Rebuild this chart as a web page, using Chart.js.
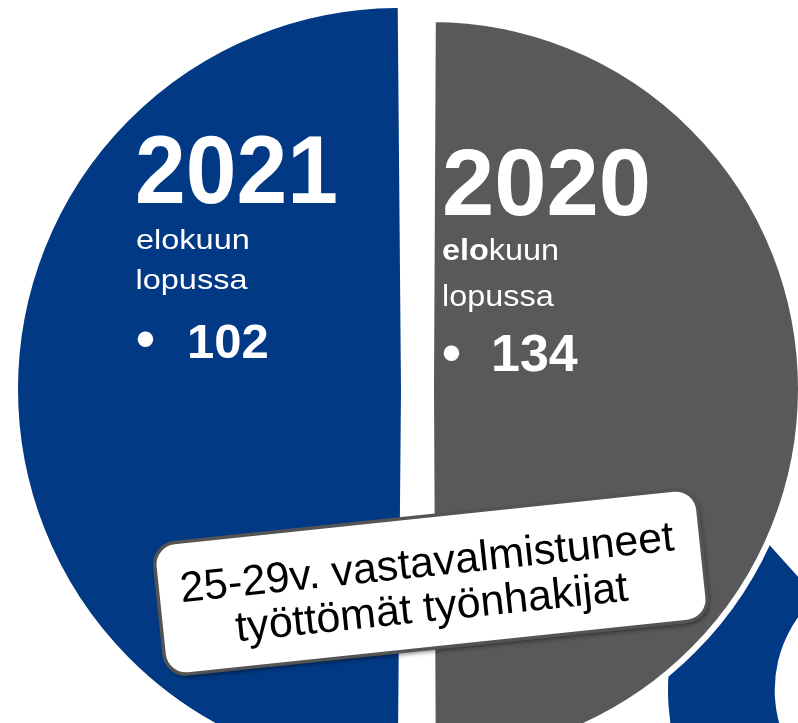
<!DOCTYPE html>
<html><head><meta charset="utf-8">
<script src="https://cdn.jsdelivr.net/npm/chart.js@4.4.1/dist/chart.umd.min.js"></script>
<style>
html,body{margin:0;padding:0;background:#fff;overflow:hidden;width:798px;height:723px;}
#wrap{position:relative;width:798px;height:723px;overflow:hidden;background:#fff;}
#ring{position:absolute;left:650px;top:440px;z-index:1;}
#main{position:absolute;left:0;top:0;z-index:2;}
</style></head><body>
<div id="wrap">
<canvas id="ring" width="500" height="500"></canvas>
<canvas id="main" width="798" height="723"></canvas>
</div>
<script>
// ---- data ----
const years = ['2021', '2020'];
const jobseekers = [102, 134];
const sliceShares = [50, 50];
const subLine1 = 'elokuun';
const subLine2 = 'lopussa';
const calloutLines = ['25-29v. vastavalmistuneet', 'työttömät työnhakijat'];
const ringShares = [138, 222];

// ---- styles ----
const BLUE = '#023984';
const GRAY = '#59595b';
const FONT = '"Liberation Sans", Arial, sans-serif';

// per-slice label layout (relative to the drawn slice centre)
const labelLayout = [
  { year: [-264, -186, 97, 0.94], l1: [-263, -140, 28, 1.16, 0], l2: [-263.5, -100, 28, 1.16], bullet: [-253.5, -50, 54], val: [-212, -31, 49] },
  { year: [11, -174, 94, 1.0], l1: [11, -129, 30, 1.08, 3], l2: [11, -83, 30, 1.08], bullet: [20.5, -36, 54], val: [60, -18, 52] }
];

function stretchedText(ctx, parts, x, y, size, sx) {
  ctx.save();
  ctx.translate(x, y);
  ctx.scale(sx, 1);
  let cx = 0;
  for (const [t, bold] of parts) {
    ctx.font = (bold ? 'bold ' : '') + size + 'px ' + FONT;
    ctx.fillText(t, cx, 0);
    cx += ctx.measureText(t).width;
  }
  ctx.restore();
}

const labelPlugin = {
  id: 'sliceLabels',
  afterDatasetsDraw(chart) {
    const ctx = chart.ctx;
    const meta = chart.getDatasetMeta(0);
    meta.data.forEach((arc, i) => {
      const p = arc.getProps(['x', 'y', 'startAngle', 'endAngle'], true);
      const mid = (p.startAngle + p.endAngle) / 2;
      const shift = (arc.options.offset || 0) / 4; // Chart.js v4 arc translation
      const cx = p.x + Math.cos(mid) * shift;
      const cy = p.y + Math.sin(mid) * shift;
      const L = labelLayout[i];
      ctx.save();
      ctx.fillStyle = '#ffffff';
      ctx.textAlign = 'left';
      ctx.textBaseline = 'alphabetic';
      stretchedText(ctx, [[years[i], true]], cx + L.year[0], cy + L.year[1], L.year[2], L.year[3]);
      const bp = L.l1[4];
      const parts = bp ? [[subLine1.slice(0, bp), true], [subLine1.slice(bp), false]] : [[subLine1, false]];
      stretchedText(ctx, parts, cx + L.l1[0], cy + L.l1[1], L.l1[2], L.l1[3]);
      stretchedText(ctx, [[subLine2, false]], cx + L.l2[0], cy + L.l2[1], L.l2[2], L.l2[3]);
      ctx.textAlign = 'center';
      ctx.font = 'bold ' + L.bullet[2] + 'px ' + FONT;
      ctx.fillText('\u2022', cx + L.bullet[0], cy + L.bullet[1] + L.bullet[2] * 0.33);
      ctx.textAlign = 'left';
      ctx.font = 'bold ' + L.val[2] + 'px ' + FONT;
      ctx.fillText(String(jobseekers[i]), cx + L.val[0], cy + L.val[1]);
      ctx.restore();
    });
  }
};

function roundRectPath(ctx, x, y, w, h, r) {
  ctx.beginPath();
  ctx.moveTo(x + r, y);
  ctx.lineTo(x + w - r, y);
  ctx.arcTo(x + w, y, x + w, y + r, r);
  ctx.lineTo(x + w, y + h - r);
  ctx.arcTo(x + w, y + h, x + w - r, y + h, r);
  ctx.lineTo(x + r, y + h);
  ctx.arcTo(x, y + h, x, y + h - r, r);
  ctx.lineTo(x, y + r);
  ctx.arcTo(x, y, x + r, y, r);
  ctx.closePath();
}

const calloutPlugin = {
  id: 'callout',
  afterDraw(chart) {
    const ctx = chart.ctx;
    const cx = 431, cy = 582;
    const w = 546, h = 132;
    ctx.save();
    ctx.translate(cx, cy);
    ctx.rotate(-6 * Math.PI / 180);
    ctx.shadowColor = 'rgba(0,0,0,0.45)';
    ctx.shadowBlur = 4;
    ctx.shadowOffsetX = 2;
    ctx.shadowOffsetY = 3;
    roundRectPath(ctx, -w / 2, -h / 2, w, h, 22);
    ctx.fillStyle = '#ffffff';
    ctx.fill();
    ctx.shadowColor = 'transparent';
    ctx.lineWidth = 3.5;
    ctx.strokeStyle = '#545454';
    ctx.stroke();
    ctx.fillStyle = '#000000';
    ctx.textAlign = 'center';
    ctx.textBaseline = 'alphabetic';
    ctx.font = '43px ' + FONT;
    ctx.fillText(calloutLines[0], -2, -6);
    ctx.fillText(calloutLines[1], -2, 39);
    ctx.restore();
  }
};

// decorative ring fragment (another graphic partly visible at bottom right)
new Chart(document.getElementById('ring'), {
  type: 'doughnut',
  data: { labels: ['', ''], datasets: [{ data: ringShares, backgroundColor: [BLUE, 'rgba(0,0,0,0)'], borderWidth: 0 }] },
  options: {
    responsive: false, animation: false, events: [],
    rotation: 180,
    radius: 232, cutout: 135,
    layout: { autoPadding: false, padding: 0 },
    plugins: { legend: { display: false }, tooltip: { enabled: false } }
  }
});

new Chart(document.getElementById('main'), {
  type: 'pie',
  data: {
    labels: years,
    datasets: [{
      data: sliceShares,
      backgroundColor: [BLUE, GRAY],
      borderColor: [BLUE, '#ffffff'],
      borderWidth: [4, 6],
      borderAlign: 'center',
      borderJoinStyle: 'miter',
      offset: [82, 46],
      clip: false
    }]
  },
  options: {
    responsive: false, animation: false, events: [],
    rotation: 180,
    radius: 358.5,
    layout: { autoPadding: false, padding: { top: 55, bottom: 0, left: 41, right: 0 } },
    plugins: { legend: { display: false }, tooltip: { enabled: false } }
  },
  plugins: [labelPlugin, calloutPlugin]
});
</script>
</body></html>
